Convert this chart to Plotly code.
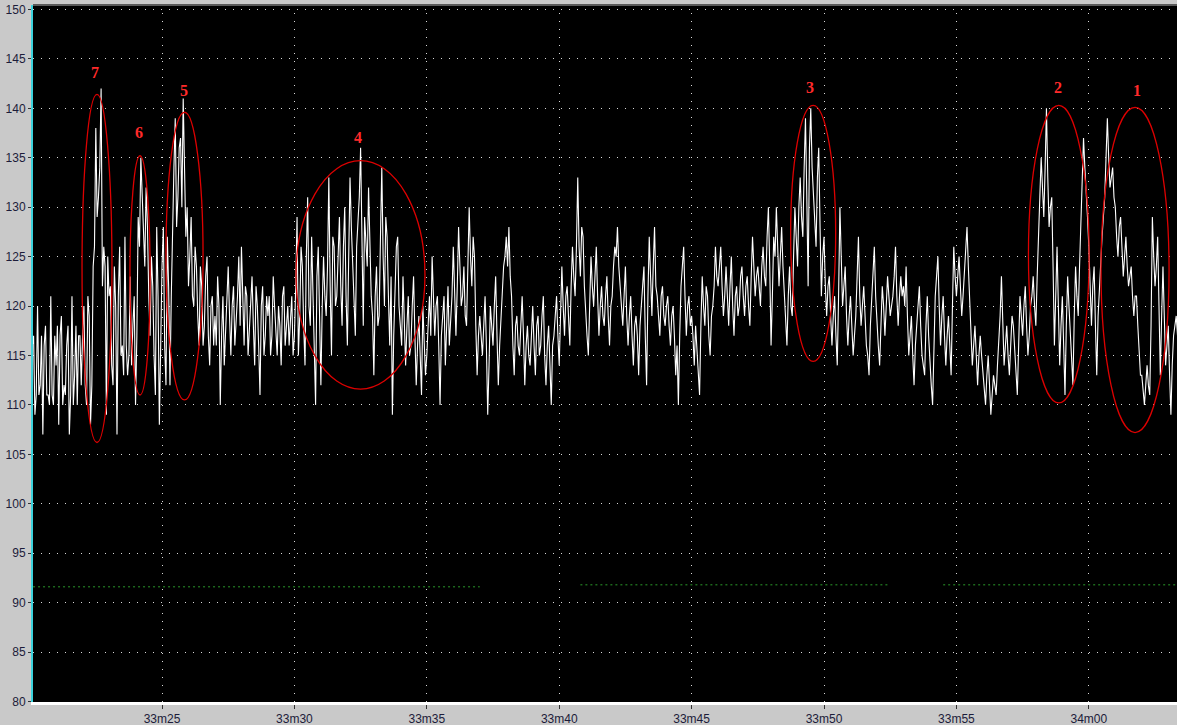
import plotly.graph_objects as go

# ---------------- data ----------------
# signal sampled every 0.05 s starting at 33m20.0 (t in seconds, 2000 = 33m20)
# "_a" arrays hold the samples at whole tenths, "_b" arrays the samples half-way between
t_start = 2000.0
t_step = 0.05

sig_33m20_a = [
    113, 116, 109, 120, 112, 107, 118, 111, 121, 110,
    114, 108, 119, 112, 116, 107, 121, 113, 110, 117,
    117, 112, 121, 108, 124, 138, 131, 142, 126, 109,
    121, 114, 124, 107, 126, 116, 127, 113, 123, 118,
    110, 129, 135, 127, 132, 121, 125, 115, 128, 108,
    124, 116, 127, 112, 130, 139, 131, 137, 141, 127,
    122, 129, 120, 124, 116, 122, 118, 125, 114, 121,
    119, 123, 110, 121, 117, 124, 115, 122, 118, 125,
    126, 116, 121, 118, 123, 114, 120, 111, 122, 117,
    119, 115, 123, 117, 120, 114, 122, 118, 116, 121,
]
sig_33m20_b = [
    110, 117, 111, 111, 117, 116, 111, 110, 111, 117,
    118, 117, 110, 111, 118, 111, 110, 118, 117, 112,
    120, 110, 119, 112, 126, 129, 134, 122, 124, 125,
    122, 112, 120, 121, 115, 113, 116, 115, 114, 121,
    117, 126, 131, 124, 128, 117, 122, 111, 121, 118,
    128, 112, 122, 121, 134, 128, 136, 130, 133, 130,
    125, 121, 126, 119, 124, 116, 123, 117, 120, 116,
    116, 120, 117, 114, 121, 119, 120, 116, 121, 118,
    120, 122, 115, 121, 118, 122, 116, 120, 115, 121,
    121, 117, 120, 115, 118, 121, 116, 120, 119, 115,
]
sig_33m30_a = [
    117, 129, 119, 124, 114, 131, 118, 122, 110, 126,
    112, 125, 119, 133, 115, 126, 121, 129, 118, 130,
    116, 133, 124, 117, 129, 136, 118, 127, 132, 121,
    113, 124, 119, 134, 120, 127, 116, 109, 122, 127,
    118, 123, 114, 121, 116, 123, 112, 119, 111, 117,
    115, 121, 125, 117, 121, 110, 119, 114, 122, 118,
    126, 117, 128, 120, 124, 118, 130, 122, 125, 113,
    119, 115, 121, 109, 120, 116, 123, 112, 119, 124,
    127, 128, 121, 113, 119, 115, 121, 112, 118, 114,
    120, 113, 119, 116, 121, 112, 118, 110, 117, 121,
]
sig_33m30_b = [
    122, 115, 126, 118, 125, 120, 127, 117, 123, 119,
    120, 121, 124, 122, 127, 120, 125, 122, 126, 121,
    125, 128, 121, 126, 131, 125, 129, 124, 126, 119,
    121, 118, 127, 125, 129, 121, 123, 117, 126, 120,
    116, 119, 118, 115, 120, 117, 116, 115, 120, 113,
    119, 117, 121, 120, 116, 117, 121, 119, 116, 121,
    121, 122, 124, 121, 119, 124, 125, 127, 118, 117,
    117, 118, 116, 114, 118, 120, 117, 116, 121, 125,
    124, 123, 116, 118, 116, 118, 117, 116, 115, 117,
    116, 118, 115, 119, 115, 116, 114, 116, 119, 117,
]
sig_33m40_a = [
    114, 124, 117, 122, 116, 126, 121, 133, 123, 127,
    119, 115, 125, 120, 126, 117, 122, 118, 123, 116,
    121, 126, 128, 122, 118, 124, 116, 121, 114, 119,
    113, 120, 124, 112, 127, 119, 128, 121, 117, 122,
    118, 121, 116, 120, 113, 110, 122, 126, 117, 121,
    119, 114, 116, 111, 123, 118, 121, 115, 120, 126,
    122, 126, 119, 124, 118, 125, 117, 122, 120, 124,
    119, 123, 118, 127, 121, 124, 120, 126, 122, 130,
    116, 127, 130, 122, 128, 121, 116, 124, 119, 130,
    124, 133, 127, 139, 122, 140, 131, 126, 136, 121,
]
sig_33m40_b = [
    119, 120, 121, 119, 122, 123, 126, 126, 128, 122,
    117, 121, 122, 123, 121, 120, 119, 121, 119, 120,
    124, 125, 124, 120, 121, 119, 119, 117, 118, 117,
    118, 121, 117, 121, 123, 124, 122, 119, 121, 119,
    120, 118, 119, 117, 116, 117, 124, 121, 120, 118,
    117, 118, 114, 118, 120, 122, 117, 119, 122, 123,
    124, 122, 121, 121, 122, 120, 121, 119, 123, 121,
    122, 120, 123, 124, 123, 122, 124, 123, 127, 124,
    121, 125, 126, 125, 124, 119, 121, 120, 125, 127,
    130, 129, 134, 131, 136, 134, 129, 133, 128, 125,
]
sig_33m50_a = [
    127, 119, 123, 116, 121, 114, 130, 120, 124, 116,
    121, 115, 119, 127, 118, 122, 116, 113, 121, 126,
    118, 114, 122, 117, 123, 119, 121, 126, 118, 123,
    122, 124, 115, 119, 112, 118, 122, 115, 113, 121,
    114, 110, 121, 125, 116, 121, 114, 119, 113, 126,
    121, 125, 119, 123, 128, 120, 114, 118, 112, 117,
    113, 110, 115, 109, 113, 111, 116, 123, 114, 118,
    113, 119, 116, 111, 121, 117, 122, 115, 120, 123,
    118, 128, 135, 129, 140, 128, 131, 116, 126, 114,
    121, 111, 123, 117, 112, 124, 119, 128, 137, 132,
]
sig_33m50_b = [
    122, 122, 119, 119, 117, 121, 125, 122, 119, 119,
    118, 117, 123, 121, 120, 119, 115, 118, 123, 121,
    116, 118, 120, 120, 121, 120, 123, 121, 121, 121,
    120, 119, 117, 115, 116, 120, 118, 114, 118, 117,
    112, 116, 123, 120, 119, 117, 117, 116, 120, 123,
    123, 122, 121, 125, 124, 117, 116, 115, 115, 115,
    111, 113, 112, 111, 112, 114, 119, 118, 116, 115,
    116, 118, 114, 116, 119, 120, 118, 117, 121, 120,
    123, 131, 132, 134, 133, 130, 124, 121, 120, 118,
    116, 118, 120, 114, 119, 121, 124, 133, 134, 129,
]
sig_34m00_a = [
    126, 118, 124, 113, 122, 127, 131, 139, 132, 134,
    130, 125, 129, 123, 127, 122, 124, 119, 121, 115,
    113, 110, 114, 111, 129, 122, 127, 113, 124, 114,
    118, 109, 117, 119, 116,
]
sig_34m00_b = [
    121, 122, 118, 119, 125, 129, 135, 135, 133, 131,
    127, 128, 126, 125, 124, 123, 121, 121, 118, 113,
    111, 112, 112, 118, 125, 124, 120, 119, 119, 116,
    113, 114, 118, 117, 117,
]

# faint green reference trace (runs with gaps)
ref_times = [2000.13, 2017.0, None, 2020.8, 2032.5, None, 2034.5, 2043.33]
ref_values = [91.6, 91.6, None, 91.8, 91.8, None, 91.8, 91.8]

# axis ticks
x_tick_vals = [2005, 2010, 2015, 2020, 2025, 2030, 2035, 2040]
x_tick_text = ["33m25", "33m30", "33m35", "33m40", "33m45", "33m50", "33m55", "34m00"]
y_tick_vals = [80, 85, 90, 95, 100, 105, 110, 115, 120, 125, 130, 135, 140, 145, 150]

# marked episodes: label, t0, t1, low, high, label position (t, value)
episodes = [
    ("7", 2001.98, 2003.11, 106.2, 141.4, 2002.47, 143.6),
    ("6", 2003.79, 2004.55, 111.0, 135.2, 2004.13, 137.6),
    ("5", 2005.15, 2006.55, 110.5, 139.6, 2005.83, 141.8),
    ("4", 2010.06, 2014.93, 111.6, 134.7, 2012.40, 137.0),
    ("3", 2028.74, 2030.44, 114.4, 140.3, 2029.47, 142.1),
    ("2", 2037.72, 2040.01, 110.2, 140.3, 2038.85, 142.1),
    ("1", 2040.46, 2043.03, 107.2, 140.1, 2041.81, 141.8),
]

# ---------------- figure ----------------
a_all = sig_33m20_a + sig_33m30_a + sig_33m40_a + sig_33m50_a + sig_34m00_a
b_all = sig_33m20_b + sig_33m30_b + sig_33m40_b + sig_33m50_b + sig_34m00_b
signal = []
for va, vb in zip(a_all, b_all):
    signal.append(va)
    signal.append(vb)
times = [t_start + i * t_step for i in range(len(signal))]

fig = go.Figure()
fig.add_trace(go.Scatter(
    x=ref_times, y=ref_values, mode="lines",
    line=dict(color="#2a9a2a", width=1, dash="2px,3px"),
    connectgaps=False, hoverinfo="skip", showlegend=False,
))
fig.add_trace(go.Scatter(
    x=times, y=signal, mode="lines",
    line=dict(color="#ffffff", width=1.1),
    showlegend=False,
))

for lab, t0, t1, lo, hi, lt, lv in episodes:
    fig.add_shape(type="circle", xref="x", yref="y", x0=t0, x1=t1, y0=lo, y1=hi,
                  line=dict(color="#dd0000", width=1.3))
    fig.add_annotation(x=lt, y=lv, text="<b>" + lab + "</b>", showarrow=False,
                       font=dict(family="Liberation Serif", size=16, color="#ff2a2a"))

# top border
fig.add_shape(type="line", xref="paper", yref="paper", x0=0, x1=1, y0=1, y1=1,
              line=dict(color="#5a5a5a", width=2))

axis_font = dict(family="Liberation Sans, Arial", size=12, color="#1c1c3a")
fig.update_layout(
    width=1177, height=725,
    margin=dict(l=33, r=0, t=5, b=23),
    paper_bgcolor="#c9c9c9",
    plot_bgcolor="#000000",
    xaxis=dict(
        range=[2000.128, 2043.33],
        tickvals=x_tick_vals, ticktext=x_tick_text,
        showgrid=True, gridcolor="#d8d8d8", gridwidth=1, griddash="1px,7px",
        zeroline=False, ticks="outside", ticklen=4, tickcolor="#333333",
        showline=True, linecolor="#ffffff", linewidth=3,
        tickfont=axis_font,
    ),
    yaxis=dict(
        range=[79.95, 150.45],
        tickvals=y_tick_vals,
        showgrid=True, gridcolor="#d8d8d8", gridwidth=1, griddash="1px,7px",
        zeroline=False, ticks="outside", ticklen=3, tickcolor="#333333",
        showline=True, linecolor="#3cd2dc", linewidth=2,
        tickfont=axis_font,
    ),
)

fig.write_html("out.html", config={"displayModeBar": False},
               post_script="document.body.style.margin='0px';")
